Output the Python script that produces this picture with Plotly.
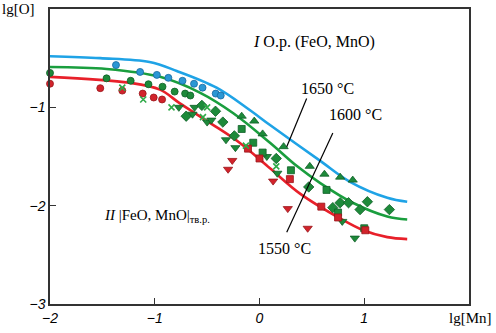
import plotly.graph_objects as go

# ---- curves ----
blue_x = [-2.0, -1.52, -1.05, -0.79, -0.41, -0.09, 0.10, 0.58, 0.86, 1.22, 1.41]
blue_y = [-0.48, -0.50, -0.54, -0.63, -0.80, -1.03, -1.18, -1.545, -1.755, -1.92, -1.96]
green_x = [-2.0, -1.46, -0.95, -0.57, -0.25, 0.10, 0.36, 0.58, 0.89, 1.22, 1.41]
green_y = [-0.59, -0.61, -0.69, -0.85, -1.06, -1.36, -1.60, -1.77, -1.97, -2.11, -2.14]
red_x = [-2.0, -1.24, -0.95, -0.76, -0.47, -0.19, 0.10, 0.39, 0.77, 0.99, 1.22, 1.41]
red_y = [-0.69, -0.75, -0.82, -0.96, -1.16, -1.36, -1.62, -1.88, -2.13, -2.25, -2.32, -2.34]

# ---- experimental points ----
blue_circ_x = [-1.37, -1.14, -0.98, -0.87, -0.735, -0.625, -0.544, -0.418, -0.37]
blue_circ_y = [-0.57, -0.64, -0.67, -0.70, -0.73, -0.76, -0.80, -0.86, -0.88]
green_circ_x = [-2.0, -1.46, -1.23, -1.06, -0.926, -0.81, -0.71, -0.66]
green_circ_y = [-0.65, -0.705, -0.73, -0.765, -0.79, -0.84, -0.86, -0.88]
red_circ_x = [-2.0, -1.52, -1.31, -1.115, -1.01, -0.93]
red_circ_y = [-0.76, -0.805, -0.83, -0.86, -0.90, -0.92]
green_cross_x = [-1.31, -1.11, -0.84, -0.50, -0.54, -0.13, 0.16]
green_cross_y = [-0.80, -0.92, -1.00, -1.00, -1.10, -1.39, -1.60]
green_tdown_x = [-0.77, -0.62, -0.64, -0.50, -0.46, -0.32, -0.23, 0.07, 0.17, 0.79, 0.91]
green_tdown_y = [-1.00, -1.00, -1.07, -1.15, -1.13, -1.33, -1.41, -1.50, -1.67, -2.16, -2.33]
green_diam_x = [-0.70, -0.55, -0.42, -0.35, -0.24, 0.16, 0.47, 0.70, 0.77, 0.85, 0.96, 1.03, 1.24]
green_diam_y = [-1.09, -0.98, -1.04, -1.15, -1.29, -1.52, -1.81, -2.02, -1.97, -1.97, -2.04, -1.96, -2.04]
green_tup_x = [-0.17, -0.05, 0.03, 0.23, 0.48, 0.62, 0.77, 0.89]
green_tup_y = [-1.09, -1.14, -1.27, -1.40, -1.60, -1.68, -1.71, -1.74]
green_sq_x = [-0.17, -0.06, 0.03, 0.30, 0.64, 0.75, 1.00]
green_sq_y = [-1.22, -1.36, -1.46, -1.64, -1.84, -2.07, -2.23]
red_sq_x = [-0.11, 0.00, 0.29, 0.59, 0.75, 1.01]
red_sq_y = [-1.42, -1.52, -1.73, -2.01, -2.12, -2.25]
red_tdown_x = [-0.26, -0.30, 0.13, 0.27, 0.46]
red_tdown_y = [-1.54, -1.63, -1.75, -2.03, -2.23]

x_ticks = [-2, -1, 0, 1]
x_ticktext = ["\u22122", "\u22121", "0", "1"]
y_ticks = [-3, -2, -1]
y_ticktext = ["\u22123", "\u22122", "\u22121"]

BLUE_L = "#1fa3e6"
GREEN_L = "#1a9e3e"
RED_L = "#e8202a"
BLUE_M = "#2a97d4"
GREEN_M = "#1d8a3a"
RED_M = "#d2232b"

fig = go.Figure()

for xs, ys, c in [(blue_x, blue_y, BLUE_L), (green_x, green_y, GREEN_L), (red_x, red_y, RED_L)]:
    fig.add_trace(go.Scatter(x=xs, y=ys, mode="lines",
                             line=dict(color=c, width=2.6, shape="spline", smoothing=1.0),
                             hoverinfo="skip"))

def pts(xs, ys, symbol, fill, edge, size=7, lw=0.8):
    fig.add_trace(go.Scatter(x=xs, y=ys, mode="markers", cliponaxis=False,
                             marker=dict(symbol=symbol, size=size, color=fill,
                                         line=dict(color=edge, width=lw))))

pts(blue_circ_x, blue_circ_y, "circle", BLUE_M, "#17679e")
pts(green_circ_x, green_circ_y, "circle", GREEN_M, "#0f5f27")
pts(red_circ_x, red_circ_y, "circle", RED_M, "#99151b")
pts(green_tdown_x, green_tdown_y, "triangle-down", GREEN_M, "#0f5f27", size=8)
pts(green_diam_x, green_diam_y, "diamond", GREEN_M, "#0f5f27", size=8)
pts(green_tup_x, green_tup_y, "triangle-up", GREEN_M, "#0f5f27", size=8)
pts(green_sq_x, green_sq_y, "square", GREEN_M, "#0f5f27", size=7)
pts(red_sq_x, red_sq_y, "square", RED_M, "#99151b", size=7)
pts(red_tdown_x, red_tdown_y, "triangle-down", RED_M, "#99151b", size=8)
fig.add_trace(go.Scatter(x=green_cross_x, y=green_cross_y, mode="markers",
                         marker=dict(symbol="x-thin", size=6, color="#2faa48",
                                     line=dict(color="#2faa48", width=1.6))))

serif = "Liberation Serif, Times New Roman, serif"
ann = []
ann.append(dict(x=0.52, y=-0.34, text="<i>I</i> O.p. (FeO, MnO)", showarrow=False,
                font=dict(family=serif, size=16, color="black")))
ann.append(dict(x=0.65, y=-0.81, text="1650 \u00b0C", showarrow=False,
                font=dict(family=serif, size=16, color="black")))
ann.append(dict(x=0.92, y=-1.07, text="1600 \u00b0C", showarrow=False,
                font=dict(family=serif, size=16, color="black")))
ann.append(dict(x=0.24, y=-2.44, text="1550 \u00b0C", showarrow=False,
                font=dict(family=serif, size=16, color="black")))
ann.append(dict(x=-0.98, y=-2.11, text="<i>II</i> |FeO, MnO|<sub>тв.р.</sub>", showarrow=False,
                font=dict(family=serif, size=15, color="black")))
ann.append(dict(xref="paper", yref="paper", x=-0.03, y=1.0, xanchor="right", yanchor="middle",
                text="lg[O]", showarrow=False, font=dict(family=serif, size=15, color="black")))
ann.append(dict(xref="paper", yref="paper", x=1.06, y=-0.015, xanchor="right", yanchor="top",
                text="lg[Mn]", showarrow=False, font=dict(family=serif, size=15, color="black")))

shapes = [
    dict(type="line", x0=0.45, y0=-0.91, x1=0.26, y1=-1.40, line=dict(color="black", width=1.2)),
    dict(type="line", x0=0.70, y0=-1.26, x1=0.26, y1=-2.27, line=dict(color="black", width=1.2)),
]

fig.update_layout(
    width=496, height=333,
    margin=dict(l=50, r=27, t=7, b=27),
    plot_bgcolor="white", paper_bgcolor="white",
    showlegend=False,
    annotations=ann, shapes=shapes,
    xaxis=dict(range=[-2, 2], tickvals=x_ticks, ticktext=x_ticktext,
               ticks="inside", ticklen=6, tickcolor="#333", tickwidth=1.3,
               showline=True, linecolor="#333", linewidth=1.5, mirror=True,
               showgrid=False, zeroline=False,
               tickfont=dict(family="Liberation Sans, Arial, sans-serif", size=14, color="black", style="italic")),
    yaxis=dict(range=[-3, 0], tickvals=y_ticks, ticktext=y_ticktext,
               ticks="inside", ticklen=6, tickcolor="#333", tickwidth=1.3,
               showline=True, linecolor="#333", linewidth=1.5, mirror=True,
               showgrid=False, zeroline=False,
               tickfont=dict(family="Liberation Sans, Arial, sans-serif", size=14, color="black", style="italic")),
)

fig.write_html("out.html", config={"displayModeBar": False},
               post_script="document.body.style.margin='0';document.body.style.padding='0';")
